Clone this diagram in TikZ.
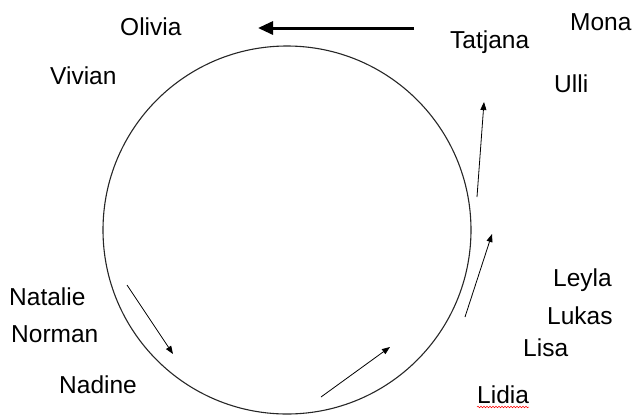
\documentclass[tikz,border=0pt]{standalone}
\usepackage{fontspec}
\setmainfont{Liberation Sans}
\usetikzlibrary{arrows.meta,decorations.pathmorphing}
\begin{document}
\begin{tikzpicture}[x=1pt,y=-1pt,
  person/.style={anchor=base west,inner sep=0pt,font=\fontsize{24.5}{28}\selectfont},
  flow/.style={line width=0.8pt,-{Triangle[length=8pt,width=6pt]}},
  bigflow/.style={line width=3pt,-{Triangle[length=15pt,width=13pt]}},
  ring/.style={draw=black!85,line width=1.1pt}]
\useasboundingbox (0,0) rectangle (633,416);

% the ring
\node[ring,circle,minimum size=368pt,inner sep=0pt] (ring) at (287,230) {};

% names around the ring
\node[person] (olivia)  at (120,35)  {Olivia};
\node[person] (mona)    at (570,30)  {Mona};
\node[person] (tatjana) at (450,48)  {Tatjana};
\node[person] (vivian)  at (50,84)   {Vivian};
\node[person] (ulli)    at (554,92)  {Ulli};
\node[person] (leyla)   at (553,286) {Leyla};
\node[person] (lukas)   at (547,324) {Lukas};
\node[person] (lisa)    at (523,356) {Lisa};
\node[person] (lidia)   at (477,403) {Lidia};
\node[person] (natalie) at (9,305)   {Natalie};
\node[person] (norman)  at (11,342)  {Norman};
\node[person] (nadine)  at (59,393)  {Nadine};

% spell-check squiggle under Lidia
\draw[red,line width=0.5pt,decorate,decoration={snake,segment length=3pt,amplitude=0.8pt}]
  ([yshift=-4pt]lidia.base west) -- ([yshift=-4pt]lidia.base east);

% arrow ends
\coordinate (a1s) at (414,28);  \coordinate (a1e) at (258,28);
\coordinate (a2s) at (477,197); \coordinate (a2e) at (484,102);
\coordinate (a3s) at (465,317); \coordinate (a3e) at (492,234);
\coordinate (a4s) at (321,397); \coordinate (a4e) at (390,347);
\coordinate (a5s) at (127,285); \coordinate (a5e) at (173,354);

\draw[bigflow] (a1s) -- (a1e);
\draw[flow] (a2s) -- (a2e);
\draw[flow] (a3s) -- (a3e);
\draw[flow] (a4s) -- (a4e);
\draw[flow] (a5s) -- (a5e);
\end{tikzpicture}
\end{document}
